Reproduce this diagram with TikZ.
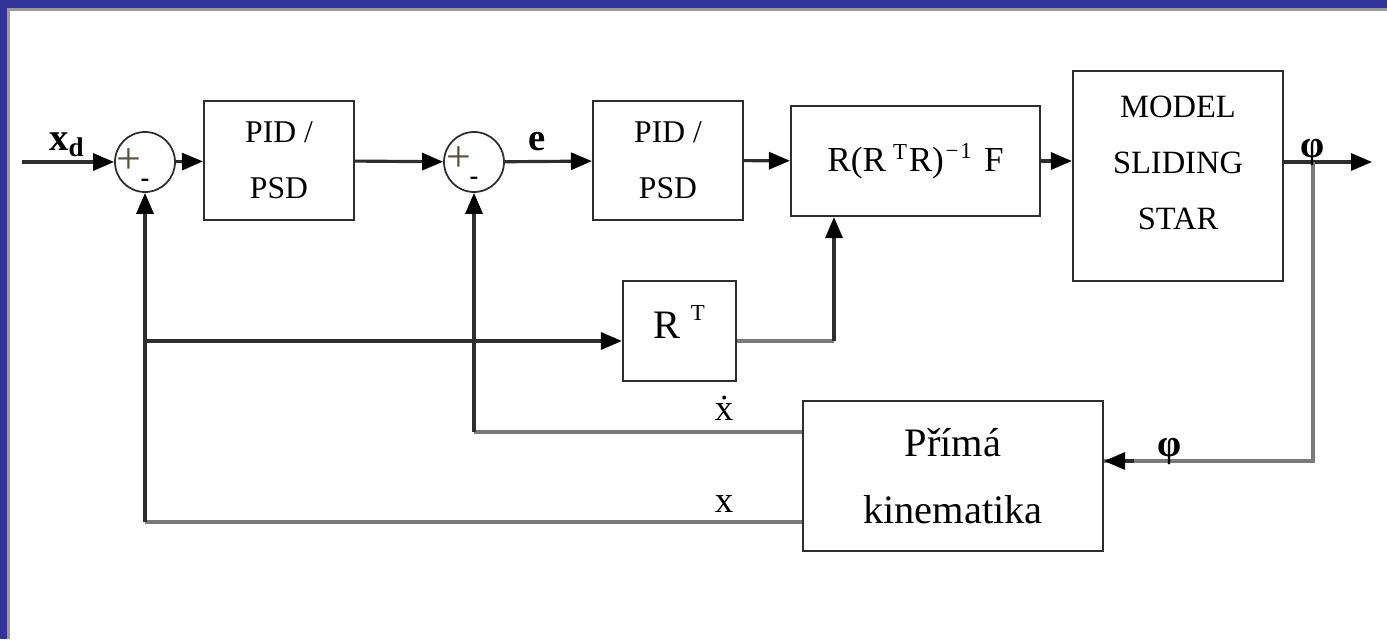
\documentclass[tikz,border=0pt]{standalone}
\usepackage{fontspec}
\setmainfont{Liberation Serif}
\usetikzlibrary{arrows.meta, positioning, calc}
\definecolor{frameblue}{HTML}{333399}
\definecolor{framegray}{HTML}{9A9A9A}
\definecolor{wire}{HTML}{2E2E2E}
\definecolor{fbwire}{HTML}{7A7A7A}
\definecolor{plusgray}{HTML}{5A5040}

\begin{document}
\begin{tikzpicture}[
  >={Triangle[length=0.42cm, width=0.34cm, color=black]},
  block/.style={draw=wire, line width=1.2pt, fill=white, inner sep=0pt, align=center, font=\fontsize{18}{32}\selectfont},
  sumnode/.style={draw=wire, line width=1pt, circle, minimum size=1.2cm, inner sep=0pt},
  wireline/.style={wire, line width=1.8pt},
  fbline/.style={fbwire, line width=1.8pt},
  sig/.style={font=\fontsize{22}{22}\selectfont\bfseries, inner sep=0pt},
  lbl/.style={font=\fontsize{21}{21}\selectfont, inner sep=0pt},
  plussign/.style={font=\fontsize{25}{25}\selectfont, text=plusgray, inner sep=0pt},
  minussign/.style={font=\fontsize{15}{15}\selectfont\bfseries, inner sep=0pt}
]

% Background and frame
\fill[white] (0,0) rectangle (27.74,12.78);
\fill[frameblue] (0,12.62) rectangle (27.74,12.78);
\fill[frameblue] (0,0) rectangle (0.14,12.78);
\fill[framegray] (0.14,12.56) rectangle (27.74,12.62);
\fill[framegray] (0.14,0) rectangle (0.20,12.62);
\useasboundingbox (0,0) rectangle (27.74,12.78);

% Summing junctions
\node[sumnode] (sum1) at (2.90,9.54) {};
\node[sumnode] (sum2) at (9.48,9.54) {};
\node[plussign] (plus1) at ([xshift=-0.32cm, yshift=0.02cm]sum1.center) {+};
\node[minussign] (minus1) at ([yshift=-0.42cm]sum1.center) {-};
\node[plussign] (plus2) at ([xshift=-0.30cm, yshift=0.06cm]sum2.center) {+};
\node[minussign] (minus2) at ([yshift=-0.38cm]sum2.center) {-};

% Blocks
\node[block, minimum width=3.0cm, minimum height=2.38cm] (pid1) at (5.58,9.57) {PID /\\PSD};
\node[block, minimum width=3.0cm, minimum height=2.38cm] (pid2) at (13.36,9.57) {PID /\\PSD};
\node[block, minimum width=4.98cm, minimum height=2.2cm, font=\fontsize{20}{24}\selectfont] (pinv) at (18.31,9.56)
  {R(R\hspace{4pt}\raisebox{6.5pt}{\fontsize{13}{13}\selectfont T}\hspace{1pt}R)\hspace{1pt}\raisebox{7.5pt}{\fontsize{13}{13}\selectfont −\hspace{1pt}1}\hspace{7pt}F};
\node[block, minimum width=4.2cm, minimum height=4.2cm] (model) at (23.56,9.26) {};
\node[align=center, font=\fontsize{18.5}{32}\selectfont] (modeltxt) at (23.56,9.52) {MODEL\\SLIDING\\STAR};
\node[block, minimum width=2.26cm, minimum height=2.0cm] (rt) at (13.59,6.16) {};
\node[font=\fontsize{23}{24}\selectfont, inner sep=0pt] (rttxt) at (13.58,6.34) {R\hspace{6pt}\raisebox{10.5pt}{\fontsize{13}{13}\selectfont T}};
\node[block, minimum width=6.0cm, minimum height=3.0cm, font=\fontsize{23}{38}\selectfont] (kin) at (19.06,3.26) {Přímá\\kinematika};

% Corners and free ends
\coordinate (in) at (0.44,9.54);
\coordinate (out) at (27.44,9.54);
\coordinate (tap) at (26.26,9.54);
\coordinate (xdcorner) at (9.48,4.14);
\coordinate (xcorner) at (2.90,2.34);
\coordinate (rtsplit) at (2.90,5.96);
\coordinate (rtcorner) at (16.68,5.96);
\coordinate (phicorner) at (26.26,3.56);

% Forward path
\draw[wireline, ->] (in) -- (sum1);
\draw[wireline, ->] (sum1) -- (pid1);
\draw[wireline, ->] (pid1) -- (sum2);
\draw[wireline, ->] (sum2) -- (pid2);
\draw[wireline, ->] (pid2) -- (pinv);
\draw[wireline, ->] (pinv.east) -- (model.west |- pinv.east);
\draw[wireline, ->] (model.east |- out) -- (out);

% Feedback paths
\draw[fbline] (kin.west |- xdcorner) -- (xdcorner);
\draw[wireline, ->] (xdcorner) -- (sum2);
\draw[fbline] (kin.west |- xcorner) -- (xcorner);
\draw[wireline, ->] (xcorner) -- (sum1);
\draw[wireline, ->] (rtsplit) -- (rt.west |- rtsplit);
\draw[fbline] (rt.east |- rtcorner) -- (rtcorner);
\draw[wireline, ->] (rtcorner) -- (pinv.south -| rtcorner);
\draw[fbline] (tap) -- (phicorner) -- (kin.east |- phicorner);
\draw[wireline, ->] ([xshift=0.6cm]kin.east |- phicorner) -- (kin.east |- phicorner);

% Signal labels
\node[sig] (xdlbl) at (1.34,9.88) {x\textsubscript{d}};
\node[sig] (elbl) at (10.74,9.94) {e};
\node[sig] (philbl) at (26.26,9.74) {φ};
\node[sig] (phifb) at (23.40,3.76) {φ};
\node[lbl] (xdotlbl) at (14.48,4.62) {\.{x}};
\node[lbl] (xlbl) at (14.48,2.70) {x};

\end{tikzpicture}
\end{document}
